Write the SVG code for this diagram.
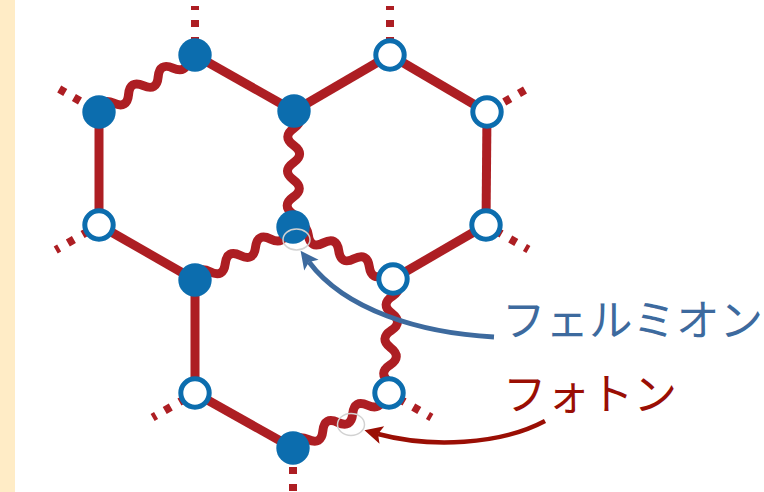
<svg xmlns="http://www.w3.org/2000/svg" xmlns:xlink="http://www.w3.org/1999/xlink" width="764" height="492" viewBox="0 0 764 492">
<style>
.edge{stroke:#AD1E23;stroke-width:9;fill:none;stroke-linecap:butt}
.wave{stroke:#AD1E23;stroke-width:9;fill:none;stroke-linejoin:round}
.stub{stroke:#AD1E23;stroke-width:8;fill:none;stroke-dasharray:7 10}
.full{fill:#0C6DAE}
.hole{fill:#FFFFFF;stroke:#0C6DAE;stroke-width:5}
.ring{fill:none;stroke:#D2D2D2;stroke-width:1.5}
.lbl{font-family:"Noto Sans CJK JP","Noto Sans",sans-serif;font-size:43.5px}
</style>
<defs>
<path id="wavepath" d="M0 0 q8.6 -12 17.2 0 t17.2 0 t17.2 0 t17.2 0 t17.2 0 t17.2 0 t17.2 0"/>
<marker id="headBlue" markerUnits="userSpaceOnUse" markerWidth="24" markerHeight="24" viewBox="-4 -11 24 22" refX="2" refY="0" orient="auto">
<path d="M-2 -9 L16 0 L-2 9 L2 0 Z" fill="#3D6A9E"/>
</marker>
<marker id="headRed" markerUnits="userSpaceOnUse" markerWidth="24" markerHeight="24" viewBox="-4 -11 24 22" refX="2" refY="0" orient="auto">
<path d="M-2 -9 L16 0 L-2 9 L2 0 Z" fill="#9A0E04"/>
</marker>
</defs>
<rect x="0" y="0" width="764" height="492" fill="#FFFFFF"/>
<rect x="0" y="0" width="15" height="492" fill="#FFECC6"/>

<g id="connectors">
<line class="stub" x1="195" y1="6" x2="195" y2="55" style="stroke-dashoffset:3"/>
<line class="stub" x1="390" y1="6" x2="390" y2="55" style="stroke-dashoffset:3"/>
<line class="stub" x1="59.2" y1="89" x2="99" y2="112"/>
<line class="stub" x1="525" y1="90" x2="487" y2="112"/>
<line class="stub" x1="55.7" y1="250" x2="99" y2="225" style="stroke-dashoffset:3"/>
<line class="stub" x1="528.4" y1="249.5" x2="486" y2="225" style="stroke-dashoffset:3"/>
<line class="stub" x1="152.6" y1="417.5" x2="195" y2="393" style="stroke-dashoffset:3"/>
<line class="stub" x1="431.4" y1="417.5" x2="389" y2="393" style="stroke-dashoffset:3"/>
<line class="stub" x1="293" y1="491" x2="293" y2="448"/>

<line class="edge" x1="195" y1="55" x2="294" y2="111"/>
<line class="edge" x1="390" y1="55" x2="294" y2="111"/>
<line class="edge" x1="390" y1="55" x2="487" y2="112"/>
<line class="edge" x1="99" y1="112" x2="99" y2="225"/>
<line class="edge" x1="487" y1="112" x2="486" y2="225"/>
<line class="edge" x1="99" y1="225" x2="195" y2="280"/>
<line class="edge" x1="486" y1="225" x2="393" y2="279"/>
<line class="edge" x1="195" y1="280" x2="195" y2="393"/>
<line class="edge" x1="195" y1="393" x2="293" y2="448"/>

<use class="wave" xlink:href="#wavepath" transform="translate(99 112) rotate(-30.7)"/>
<use class="wave" xlink:href="#wavepath" transform="translate(294 111) rotate(90.5)"/>
<use class="wave" xlink:href="#wavepath" transform="translate(195 280) rotate(-28.4)"/>
<use class="wave" xlink:href="#wavepath" transform="translate(293 227) rotate(27.5)"/>
<use class="wave" xlink:href="#wavepath" transform="translate(393 279) rotate(92)"/>
<use class="wave" xlink:href="#wavepath" transform="translate(293 448) rotate(-29.8)"/>
</g>

<g id="node-A"><circle class="full" cx="195" cy="55" r="16.7"/></g>
<g id="node-B"><circle class="hole" cx="390" cy="55" r="14.2"/></g>
<g id="node-C"><circle class="full" cx="99" cy="112" r="16.7"/></g>
<g id="node-D"><circle class="full" cx="294" cy="111" r="16.7"/></g>
<g id="node-E"><circle class="hole" cx="487" cy="112" r="14.2"/></g>
<g id="node-F"><circle class="hole" cx="99" cy="225" r="14.2"/></g>
<g id="node-G"><circle class="full" cx="293" cy="227" r="16.7"/></g>
<g id="node-H"><circle class="hole" cx="486" cy="225" r="14.2"/></g>
<g id="node-I"><circle class="full" cx="195" cy="280" r="16.7"/></g>
<g id="node-J"><circle class="hole" cx="393" cy="279" r="14.2"/></g>
<g id="node-K"><circle class="hole" cx="195" cy="393" r="14.2"/></g>
<g id="node-L"><circle class="hole" cx="389" cy="393" r="14.2"/></g>
<g id="node-M"><circle class="full" cx="293" cy="448" r="16.7"/></g>

<g id="highlights">
<ellipse class="ring" cx="296.5" cy="239.5" rx="13.5" ry="10.5"/>
<ellipse class="ring" cx="351" cy="424.5" rx="13.5" ry="11"/>
</g>

<g id="pointers">
<path d="M494 337 C420 333 345 310 309 262" fill="none" stroke="#3D6A9E" stroke-width="5" marker-end="url(#headBlue)"/>
<path d="M545 421 C500 445 430 448 378 434" fill="none" stroke="#9A0E04" stroke-width="4.5" marker-end="url(#headRed)"/>
</g>

<g id="labels">
<text class="lbl" x="502" y="336" fill="#3D6A9E">フェルミオン</text>
<text class="lbl" x="503" y="410" fill="#9A0E04">フォトン</text>
</g>
</svg>
